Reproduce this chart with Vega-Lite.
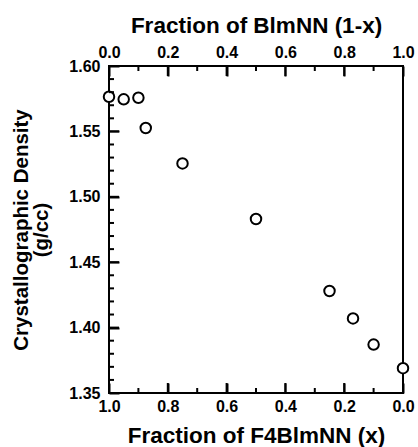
{
  "$schema": "https://vega.github.io/schema/vega-lite/v6.json",
  "width": 294,
  "height": 327,
  "autosize": {"type": "none"},
  "padding": {"left": 109, "top": 66, "right": 15, "bottom": 54},
  "background": "white",
  "config": {
    "view": {"stroke": "black", "strokeWidth": 2},
    "font": "Liberation Sans",
    "axis": {
      "grid": false,
      "domain": false,
      "labelFlush": false,
      "tickColor": "black",
      "tickWidth": 2,
      "labelFont": "Liberation Sans",
      "labelFontWeight": "bold",
      "labelFontSize": 16,
      "labelColor": "black",
      "titleFont": "Liberation Sans",
      "titleFontWeight": "bold",
      "titleFontSize": 22.5,
      "titleColor": "black"
    }
  },
  "datasets": {
    "xticks": [
      {"v": 0.1, "major": false}, {"v": 0.2, "major": true}, {"v": 0.3, "major": false},
      {"v": 0.4, "major": true}, {"v": 0.5, "major": false}, {"v": 0.6, "major": true},
      {"v": 0.7, "major": false}, {"v": 0.8, "major": true}, {"v": 0.9, "major": false}
    ],
    "yticks": [
      {"v": 1.36, "major": false}, {"v": 1.37, "major": false}, {"v": 1.38, "major": false}, {"v": 1.39, "major": false},
      {"v": 1.40, "major": true},
      {"v": 1.41, "major": false}, {"v": 1.42, "major": false}, {"v": 1.43, "major": false}, {"v": 1.44, "major": false},
      {"v": 1.45, "major": true},
      {"v": 1.46, "major": false}, {"v": 1.47, "major": false}, {"v": 1.48, "major": false}, {"v": 1.49, "major": false},
      {"v": 1.50, "major": true},
      {"v": 1.51, "major": false}, {"v": 1.52, "major": false}, {"v": 1.53, "major": false}, {"v": 1.54, "major": false},
      {"v": 1.55, "major": true},
      {"v": 1.56, "major": false}, {"v": 1.57, "major": false}, {"v": 1.58, "major": false}, {"v": 1.59, "major": false}
    ]
  },
  "layer": [
    {
      "data": {
        "values": [
          {"x": 1.0, "density": 1.5765},
          {"x": 0.95, "density": 1.5745},
          {"x": 0.9, "density": 1.5757},
          {"x": 0.875, "density": 1.5526},
          {"x": 0.75, "density": 1.5255},
          {"x": 0.5, "density": 1.483},
          {"x": 0.25, "density": 1.428},
          {"x": 0.17, "density": 1.407},
          {"x": 0.1, "density": 1.387},
          {"x": 0.0, "density": 1.369}
        ]
      },
      "mark": {"type": "point", "shape": "circle", "size": 110, "strokeWidth": 2, "color": "black", "fill": "white", "filled": false, "opacity": 1},
      "encoding": {
        "x": {
          "field": "x", "type": "quantitative",
          "scale": {"domain": [0, 1], "reverse": true, "nice": false, "zero": false},
          "axis": {
            "orient": "bottom",
            "title": "Fraction of F4BlmNN (x)",
            "values": [0, 0.2, 0.4, 0.6, 0.8, 1.0],
            "format": ".1f",
            "tickSize": -10,
            "labelPadding": 15,
            "titlePadding": 10
          }
        },
        "y": {
          "field": "density", "type": "quantitative",
          "scale": {"domain": [1.35, 1.6], "nice": false, "zero": false},
          "axis": {
            "orient": "left",
            "title": ["Crystallographic Density", "(g/cc)"],
            "titleFontSize": 20.5,
            "titleLineHeight": 20,
            "values": [1.35, 1.40, 1.45, 1.50, 1.55, 1.60],
            "format": ".2f",
            "tickSize": -10,
            "labelPadding": 19,
            "titlePadding": 17
          }
        }
      }
    },
    {
      "data": {"values": [{"x": 0.0}, {"x": 1.0}]},
      "mark": {"type": "point", "opacity": 0},
      "encoding": {
        "x": {
          "field": "x", "type": "quantitative",
          "axis": {
            "orient": "top",
            "title": "Fraction of BlmNN (1-x)",
            "values": [0, 0.2, 0.4, 0.6, 0.8, 1.0],
            "labelExpr": "format(1 - datum.value, '.1f')",
            "tickSize": -10,
            "labelPadding": 16,
            "titlePadding": 7
          }
        }
      }
    },
    {
      "data": {"name": "xticks"},
      "mark": {"type": "point", "shape": "M0,0V-1", "filled": false, "color": "black", "strokeWidth": 2, "opacity": 1},
      "encoding": {
        "x": {"field": "v", "type": "quantitative", "axis": null},
        "y": {"datum": 1.35, "type": "quantitative"},
        "size": {"condition": {"test": "datum.major", "value": 400}, "value": 100}
      }
    },
    {
      "data": {"name": "xticks"},
      "mark": {"type": "point", "shape": "M0,0V1", "filled": false, "color": "black", "strokeWidth": 2, "opacity": 1},
      "encoding": {
        "x": {"field": "v", "type": "quantitative", "axis": null},
        "y": {"datum": 1.6, "type": "quantitative"},
        "size": {"condition": {"test": "datum.major", "value": 400}, "value": 100}
      }
    },
    {
      "data": {"name": "yticks"},
      "mark": {"type": "point", "shape": "M0,0H1", "filled": false, "color": "black", "strokeWidth": 2, "opacity": 1},
      "encoding": {
        "y": {"field": "v", "type": "quantitative"},
        "x": {"datum": 1, "type": "quantitative", "axis": null},
        "size": {"condition": {"test": "datum.major", "value": 400}, "value": 100}
      }
    }
  ],
  "resolve": {"axis": {"x": "independent"}}
}
